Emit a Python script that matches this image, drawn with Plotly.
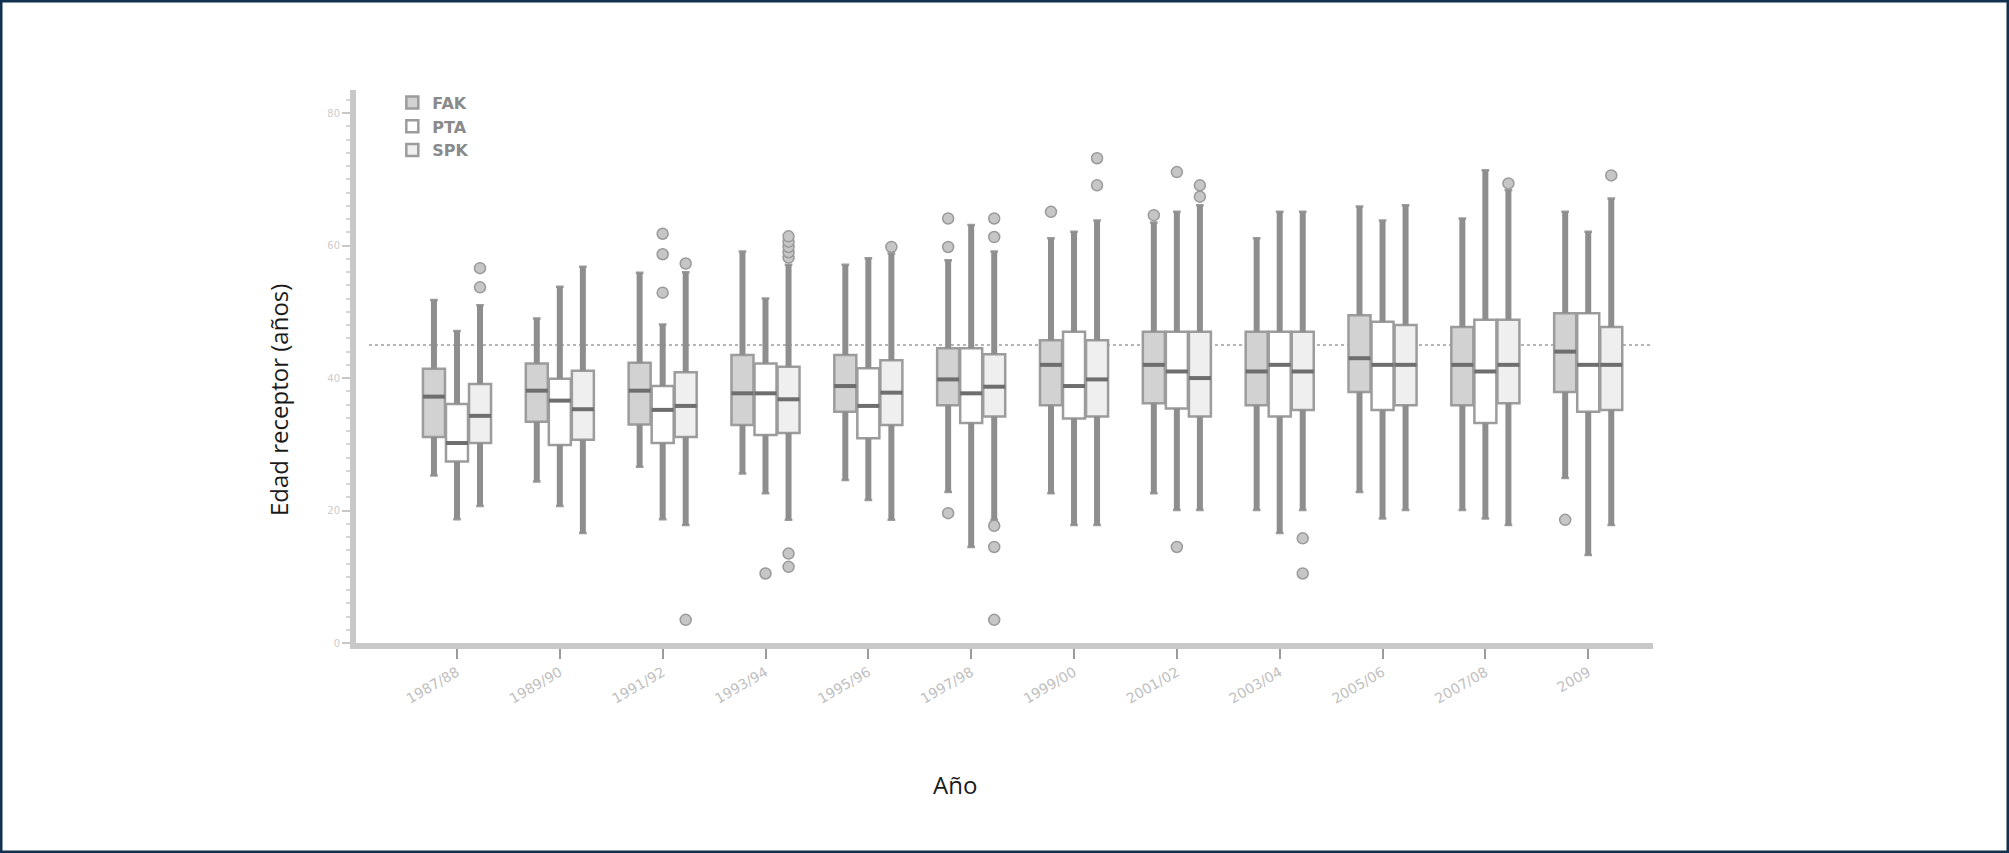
import plotly.graph_objects as go

# ---------------- data ----------------
years = ["1987/88", "1989/90", "1991/92", "1993/94", "1995/96", "1997/98",
         "1999/00", "2001/02", "2003/04", "2005/06", "2007/08", "2009"]

fak_low = [25.3, 24.4, 26.6, 25.6, 24.6, 22.8, 22.6, 22.6, 20.1, 22.8, 20.1, 24.9]
fak_q1 = [31.1, 33.4, 33.0, 32.9, 34.9, 35.9, 35.9, 36.2, 35.9, 37.9, 35.9, 37.9]
fak_med = [37.2, 38.1, 38.1, 37.7, 38.8, 39.8, 42.0, 42.0, 41.0, 43.0, 42.0, 44.0]
fak_q3 = [41.4, 42.2, 42.3, 43.5, 43.5, 44.5, 45.7, 47.0, 47.0, 49.5, 47.7, 49.8]
fak_up = [51.8, 49.0, 55.9, 59.1, 57.1, 57.8, 61.1, 63.5, 61.1, 65.9, 64.1, 65.1]
fak_out = [[], [], [], [], [], [64.1, 59.8, 19.6], [65.1], [64.6], [], [], [], [18.6]]

pta_low = [18.7, 20.7, 18.7, 22.6, 21.6, 14.5, 17.8, 20.1, 16.6, 18.8, 18.8, 13.3]
pta_q1 = [27.4, 29.9, 30.2, 31.4, 30.9, 33.2, 33.9, 35.4, 34.2, 35.2, 33.2, 34.9]
pta_med = [30.2, 36.6, 35.2, 37.7, 35.8, 37.7, 38.8, 41.0, 42.0, 42.0, 41.0, 42.0]
pta_q3 = [36.1, 39.9, 38.8, 42.2, 41.5, 44.5, 47.0, 47.0, 47.0, 48.5, 48.8, 49.8]
pta_up = [47.1, 53.8, 48.1, 52.0, 58.1, 63.1, 62.1, 65.1, 65.1, 63.8, 71.4, 62.1]
pta_out = [[], [], [61.8, 58.7, 52.9], [10.5], [], [], [], [71.1, 14.5], [], [], [], []]

spk_low = [20.7, 16.6, 17.8, 18.6, 18.6, 18.6, 17.8, 20.1, 20.1, 20.1, 17.8, 17.8]
spk_q1 = [30.2, 30.7, 31.1, 31.7, 32.9, 34.2, 34.2, 34.2, 35.2, 35.9, 36.2, 35.2]
spk_med = [34.3, 35.3, 35.8, 36.8, 37.8, 38.7, 39.8, 40.0, 41.0, 42.0, 42.0, 42.0]
spk_q3 = [39.1, 41.1, 40.9, 41.7, 42.7, 43.6, 45.7, 47.0, 47.0, 48.0, 48.8, 47.7]
spk_up = [51.0, 56.8, 56.0, 57.1, 58.8, 59.1, 63.8, 66.1, 65.1, 66.1, 68.4, 67.1]
spk_out = [[56.6, 53.7], [], [57.3, 3.5], [58.2, 59.0, 59.8, 60.6, 61.4, 13.5, 11.5],
           [59.8], [64.1, 61.3, 17.7, 14.5, 3.5], [73.2, 69.1], [69.1, 67.4],
           [15.8, 10.5], [], [69.4], [70.6]]

reference_age = 45
y_ticks = [0, 20, 40, 60, 80]

# ---------------- style ----------------
W, H = 2009, 853
ML, MR, MT, MB = 356, 356, 90, 210
OFFSET = 0.224
BOXW = 0.214

series = [
    ("FAK", -OFFSET, fak_low, fak_q1, fak_med, fak_q3, fak_up, fak_out, "#d2d2d2"),
    ("PTA", 0.0, pta_low, pta_q1, pta_med, pta_q3, pta_up, pta_out, "#ffffff"),
    ("SPK", OFFSET, spk_low, spk_q1, spk_med, spk_q3, spk_up, spk_out, "#efefef"),
]

fig = go.Figure()
for name, off, lo, q1, md, q3, up, outs, fill in series:
    xs = [i + off for i in range(len(years))]
    fig.add_trace(go.Box(
        name=name, x=xs, q1=q1, median=md, q3=q3, lowerfence=lo, upperfence=up,
        width=BOXW, boxpoints=False, fillcolor=fill, whiskerwidth=0.35,
        line=dict(color="#9c9c9c", width=2.5), showlegend=True, hoverinfo="skip",
    ))

for name, off, lo, q1, md, q3, up, outs, fill in series:
    xs = [i + off for i in range(len(years))]
    # thick whiskers
    wx, wy = [], []
    for x, a, b, c, d in zip(xs, lo, q1, q3, up):
        wx += [x, x, None, x, x, None]
        wy += [a, b, None, c, d, None]
    fig.add_trace(go.Scatter(x=wx, y=wy, mode="lines", showlegend=False,
                             line=dict(color="#8e8e8e", width=6), hoverinfo="skip"))
    # medians
    mx, my = [], []
    for x, m in zip(xs, md):
        mx += [x - BOXW / 2, x + BOXW / 2, None]
        my += [m, m, None]
    fig.add_trace(go.Scatter(x=mx, y=my, mode="lines", showlegend=False,
                             line=dict(color="#6e6e6e", width=4), hoverinfo="skip"))
    # outliers
    ox, oy = [], []
    for x, o in zip(xs, outs):
        ox += [x] * len(o)
        oy += o
    fig.add_trace(go.Scatter(x=ox, y=oy, mode="markers", showlegend=False,
                             marker=dict(size=11, color="#c6c6c6",
                                         line=dict(color="#9a9a9a", width=1.5)),
                             hoverinfo="skip"))

plot_w = W - ML - MR
plot_h = H - MT - MB

fig.update_layout(
    width=W, height=H,
    margin=dict(l=ML, r=MR, t=MT, b=MB),
    paper_bgcolor="white", plot_bgcolor="white",
    boxmode="overlay",
    showlegend=True,
    legend=dict(x=0.028, y=1.008, xanchor="left", yanchor="top",
                font=dict(family="DejaVu Sans", size=16, color="#8a8a8a", weight="bold"),
                bgcolor="rgba(0,0,0,0)", tracegroupgap=0, itemwidth=30),
    xaxis=dict(range=[-0.982, 11.63], tickmode="array",
               tickvals=list(range(len(years))), ticktext=years,
               tickangle=-30, tickfont=dict(family="DejaVu Sans", size=14, color="#c0c0c0"),
               ticks="outside", ticklen=10, tickwidth=2, tickcolor="#9a9a9a",
               showline=True, linecolor="#c8c8c8", linewidth=6,
               showgrid=False, zeroline=False),
    yaxis=dict(range=[0, 83.5], tickmode="array", tickvals=y_ticks,
               tickfont=dict(family="DejaVu Sans", size=10, color="#cccccc"),
               ticks="outside", ticklen=8, tickwidth=2, tickcolor="#c8c8c8",
               minor=dict(dtick=2, ticks="outside", ticklen=4, tickcolor="#d6d6d6"),
               showline=True, linecolor="#c8c8c8", linewidth=6,
               showgrid=False, zeroline=False),
    shapes=[
        dict(type="line", xref="paper", yref="y", x0=0.01, x1=1.0,
             y0=reference_age, y1=reference_age,
             line=dict(color="#b4b4b4", width=2, dash="dot"), layer="below"),
        dict(type="rect", xref="paper", yref="paper",
             x0=-ML / plot_w, x1=1 + MR / plot_w,
             y0=-MB / plot_h, y1=1 + MT / plot_h,
             line=dict(color="#12304f", width=5), fillcolor="rgba(0,0,0,0)",
             layer="above"),
    ],
    annotations=[
        dict(text="Edad receptor (años)", xref="paper", yref="paper",
             x=(279 - ML) / plot_w, y=(H - MB - 400) / plot_h,
             textangle=-90, showarrow=False, xanchor="center", yanchor="middle",
             font=dict(family="Open Sans", size=24, color="#1a1a1a")),
        dict(text="Año", xref="paper", yref="paper",
             x=(955 - ML) / plot_w, y=(H - MB - 784) / plot_h,
             showarrow=False, xanchor="center", yanchor="middle",
             font=dict(family="Open Sans", size=24, color="#1a1a1a")),
    ],
)

fig.write_html("out.html", config={"displayModeBar": False},
               post_script="document.body.style.margin='0';document.body.style.overflow='hidden';")
